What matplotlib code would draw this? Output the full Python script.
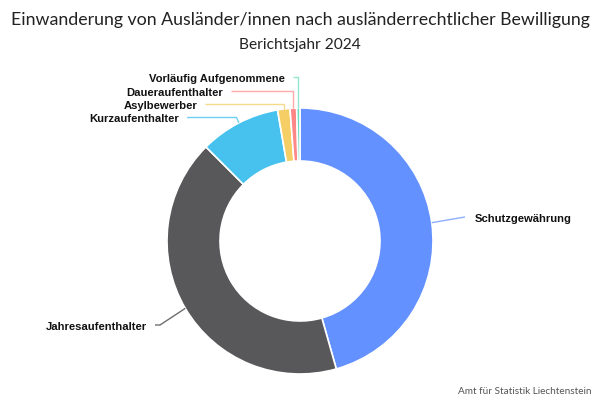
import numpy as np
import matplotlib
matplotlib.use("Agg")
import matplotlib.pyplot as plt

categories = ["Schutzgewährung", "Jahresaufenthalter", "Kurzaufenthalter",
              "Asylbewerber", "Daueraufenthalter", "Vorläufig Aufgenommene"]
shares = [45.6, 41.9, 9.8, 1.5, 0.8, 0.4]

COLORS = ["#6391FF", "#58585A", "#47C2EF", "#F5CE66", "#FF8787", "#6EDCBF"]
LINE_COLORS = ["#8EAEFF", "#6E6E70", "#6FCFF3", "#F7DA8C", "#FFA9A9", "#93E6CF"]

W, H = 600, 400
CX, CY, R, RING = 300, 241, 133, 53


def py(y):
    # pixel row (top = 0) -> data y
    return H - y


fig = plt.figure(figsize=(6, 4), dpi=100)
ax = fig.add_axes([0, 0, 1, 1])

wedges, _ = ax.pie(
    shares,
    colors=COLORS,
    center=(CX, py(CY)),
    radius=R,
    startangle=90,
    counterclock=False,
    wedgeprops=dict(width=RING, edgecolor="white", linewidth=1.2),
)
ax.set_xlim(0, W)
ax.set_ylim(0, H)
ax.set_aspect("equal")
ax.axis("off")

# label layout: (label y in px, elbow x in px / "v" for vertical / None, line end x, side)
layout = {
    "Schutzgewährung": (217, None, 465, "left"),
    "Jahresaufenthalter": (325, 160, 155, "right"),
    "Kurzaufenthalter": (117.5, 236.5, 187, "right"),
    "Asylbewerber": (104, "v", 205, "right"),
    "Daueraufenthalter": (90.5, "v", 231, "right"),
    "Vorläufig Aufgenommene": (76.5, "v", 293, "right"),
}

for w, name, lc in zip(wedges, categories, LINE_COLORS):
    mid = np.deg2rad((w.theta1 + w.theta2) / 2)
    ex = CX + R * np.cos(mid)
    ey = py(CY) + R * np.sin(mid)
    ly, elbow, endx, side = layout[name]
    if elbow is None:
        xs, ys = [ex, endx], [ey, py(ly)]
    elif elbow == "v":
        xs, ys = [ex, ex, endx], [ey, py(ly), py(ly)]
    else:
        xs, ys = [ex, elbow, endx], [ey, py(ly), py(ly)]
    ax.plot(xs, ys, color=lc, lw=1, solid_capstyle="butt")
    if side == "left":
        ax.text(endx + 10, py(ly) - 2, name, ha="left", va="center",
                fontsize=8.1, fontweight="bold", family="Liberation Sans", color="#111111")
    else:
        ax.text(endx - 8, py(ly) - 2, name, ha="right", va="center",
                fontsize=8.1, fontweight="bold", family="Liberation Sans", color="#111111")

fig.text(0.5, 1 - 20 / H, "Einwanderung von Ausländer/innen nach ausländerrechtlicher Bewilligung",
         ha="center", va="center", fontsize=12.8, family="Lato", color="#222222")
fig.text(0.5, 1 - 45 / H, "Berichtsjahr 2024",
         ha="center", va="center", fontsize=11.2, family="Lato", color="#222222")
fig.text(591 / W, 1 - 391 / H, "Amt für Statistik Liechtenstein",
         ha="right", va="center", fontsize=7.2, family="Lato", color="#555555")

fig.savefig("out.png", dpi=100)
